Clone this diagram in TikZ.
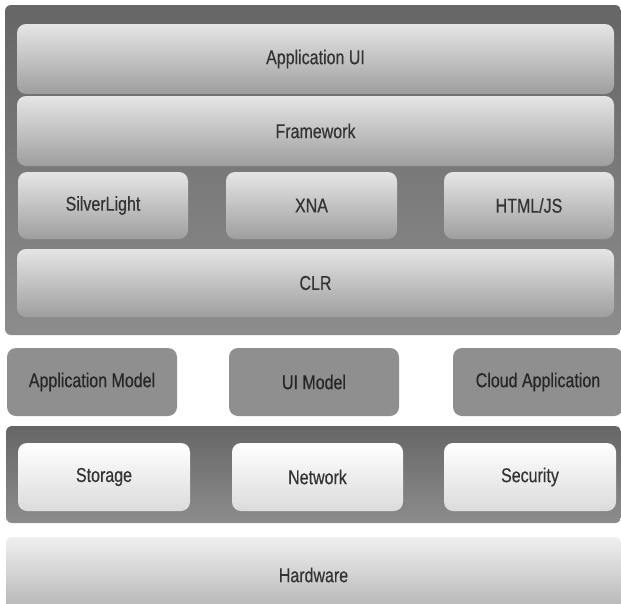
\documentclass[tikz,border=0pt]{standalone}
\usepackage{fontspec}
\setmainfont{Liberation Sans}[FakeStretch=0.8,FakeBold=0.4]
\begin{document}
\begin{tikzpicture}[x=1pt,y=-1pt,
  base/.style={rounded corners=9pt, inner sep=0pt, text=black!80, font=\fontsize{20}{22}\selectfont},
  frame/.style={base, top color=black!60, bottom color=black!45, rounded corners=6pt},
  layer/.style={base, top color=black!10, bottom color=black!38},
  midbox/.style={base, fill=black!44, text=black!85},
  whitebox/.style={base, top color=white, bottom color=black!14},
  hwbox/.style={base, top color=black!6, bottom color=black!30, rounded corners=6pt}
]
\useasboundingbox[fill=white] (0,0) rectangle (621,603);
% top frame
\node[frame, minimum width=616pt, minimum height=330pt] (outer1) at (313,170) {};
\node[layer, minimum width=597pt, minimum height=70pt] (appui) at (315.5,59) {Application UI};
\node[layer, minimum width=597pt, minimum height=70pt] (framework) at (315.5,131) {Framework};
\node[layer, minimum width=170pt, minimum height=67pt] (silver) at (103,205.5) {SilverLight};
\node[layer, minimum width=171pt, minimum height=67pt] (xna) at (311.5,205.5) {XNA};
\node[layer, minimum width=170pt, minimum height=67pt] (html) at (529,205.5) {HTML/JS};
\node[layer, minimum width=597pt, minimum height=68pt] (clr) at (315.5,283) {CLR};
% middle row
\node[midbox, minimum width=170pt, minimum height=68pt] (appmodel) at (92,382) {Application Model};
\node[midbox, minimum width=170pt, minimum height=68pt] (uimodel) at (314,382) {UI Model};
\node[midbox, minimum width=170pt, minimum height=68pt] (cloud) at (538,382) {Cloud Application};
% lower frame
\node[frame, minimum width=615pt, minimum height=97pt] (outer2) at (313.5,474.5) {};
\node[whitebox, minimum width=172pt, minimum height=68pt] (storage) at (104,477) {Storage};
\node[whitebox, minimum width=171pt, minimum height=68pt] (network) at (317.5,477) {Network};
\node[whitebox, minimum width=172pt, minimum height=68pt] (security) at (530,477) {Security};
% hardware
\node[hwbox, minimum width=615pt, minimum height=76pt] (hardware) at (313.5,575) {Hardware};
\end{tikzpicture}
\end{document}
